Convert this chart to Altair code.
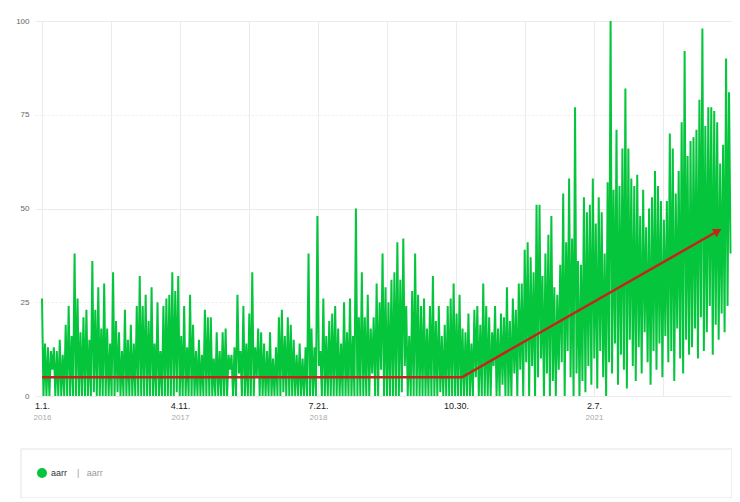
import altair as alt
import pandas as pd

GREEN = "#05c53d"
RED = "#c2261b"
FONT = "'Liberation Sans', Arial, sans-serif"

series_name = "aarr"
legend_note = "|\u00a0\u00a0\u00a0aarr"

vals_2016 = [26,0,14,0,13,0,12,7,13,0, 12,0,15,0,11,0,19,0,24,0, 16,0,38,0,26,0,17,0,21,0,
             23,0,15,0,36,1,23,0,29,0, 18,0,30,0,18,0,14,0,33,0, 20,1,17,0,12,0,23,0,15,0,
             19,0,14,0,24,0,32,0,24,0, 27,0,20]
vals_2017 = [0,29,0,14,0,25,0,12,0,24, 0,26,0,27,0,33,0,28,1,32, 0,16,0,24,0,13,0,27,0,19,
             0,12,0,15,0,11,0,23,0,21, 0,21,0,10,0,17,0,12,0,17, 0,18,0,11,7,11,0,13,0,27,
             6,12,0,24,0,14,0,22,0,33, 0,13,5]
vals_2018 = [18,0,17,0,14,0,12,0,17,0, 10,0,13,0,21,0,23,1,16,0, 21,0,19,0,15,0,11,0,14,0,
             10,0,13,0,38,0,18,0,13,0, 48,8,12,0,26,0,16,0,20,0, 22,0,24,0,18,0,14,0,25,0,
             17,0,26,0,16,0,50,0,21,0, 33,0,21]
vals_2019 = [0,27,0,18,6,21,0,30,0,25, 7,38,0,29,0,25,0,31,0,33, 0,41,0,31,1,42,8,24,0,16,
             0,28,0,38,0,27,0,24,0,26, 0,18,0,24,0,32,0,20,0,24, 1,16,0,19,0,24,0,26,0,30,
             0,22,0,27,0,18,0,17,0,22, 0,14,0]
vals_2020 = [23,5,24,0,19,0,30,0,24,0, 21,0,17,8,24,0,18,0,22,3, 21,0,29,0,20,0,26,6,23,0,
             30,7,30,0,39,9,41,0,37,8, 33,0,51,5,51,10,32,0,38,6, 43,0,48,4,29,0,27,7,35,9,
             54,0,41,12,58,5,42,0,77,6, 36,0,35]
vals_2021 = [4,53,1,49,8,51,3,58,10,46, 2,53,12,49,5,38,0,57,9,100, 6,55,14,71,3,56,11,66,7,82,
             2,66,15,58,8,56,4,59,13,48, 6,55,17,45,9,50,3,53,12,60, 7,56,14,52,5,47,16,52,9,70,
             12,66,4,54,18,60,10,73,6,92, 15,64,11]
vals_2022 = [68,13,69,18,71,10,79,21,98,12, 72,17,77,24,77,11,76,19,73,15, 62,22,67,17,90,24,81,38]

values = vals_2016 + vals_2017 + vals_2018 + vals_2019 + vals_2020 + vals_2021 + vals_2022
dates = pd.date_range("2016-01-01", periods=len(values), freq="5D")
df = pd.DataFrame({"date": dates, "value": values, "series": series_name})

trend_dates = ["2016-01-01", "2019-11-19", "2022-04-01"]
trend_values = [5, 5, 44]
trend = pd.DataFrame({"date": pd.to_datetime(trend_dates), "value": trend_values})
arrow = trend.tail(1)

label_dates = ["2016-01-01", "2017-04-11", "2018-07-21", "2019-10-30", "2021-02-07"]
year_dates = ["2016-01-01", "2017-04-11", "2018-07-21", "2021-02-07"]
grid_dates = [pd.Timestamp("2016-01-01") + pd.Timedelta(days=233 * k) for k in range(11)]


def dt(ts, hours=0):
    ts = pd.Timestamp(ts)
    return alt.DateTime(year=ts.year, month=ts.month, date=ts.day, hours=hours)


xscale = alt.Scale(domain=[dt("2015-12-08", 8), dt("2022-05-19")])
yscale = alt.Scale(domain=[0, 100], nice=False)

yaxis = alt.Axis(
    values=[0, 25, 50, 75, 100], grid=True, gridColor="#ebebeb", gridWidth=1,
    gridDash={"condition": {"test": "datum.value == 25 || datum.value == 75", "value": [2, 2]}, "value": []},
    ticks=False, domain=False, labelColor="#666", labelFontSize=8, labelPadding=6, title=None,
)

line = alt.Chart(df).mark_line(strokeWidth=2.0, interpolate="linear").encode(
    x=alt.X("date:T", scale=xscale,
            axis=alt.Axis(orient="bottom", values=[dt(d) for d in grid_dates], grid=True,
                          gridColor="#ebebeb", labels=False, ticks=False, domain=False, title=None)),
    y=alt.Y("value:Q", scale=yscale, axis=yaxis),
    color=alt.Color("series:N", scale=alt.Scale(domain=[series_name], range=[GREEN]),
                    legend=alt.Legend(orient="none", legendX=2, legendY=447, direction="horizontal",
                                      title=legend_note, titleOrient="right", titleColor="#999",
                                      titleFontWeight="normal", titleFontSize=9, titlePadding=10,
                                      labelFontSize=9, labelColor="#333", symbolType="circle",
                                      symbolSize=100, symbolFillColor=GREEN, symbolStrokeColor=GREEN,
                                      symbolStrokeWidth=0, padding=0)),
)

trend_line = alt.Chart(trend).mark_line(color=RED, strokeWidth=2.5).encode(
    x=alt.X("date:T", scale=xscale,
            axis=alt.Axis(orient="bottom", values=[dt(d) for d in label_dates], format="%-m.%-d.",
                          grid=False, ticks=False, domain=False, labelColor="#222", labelFontSize=9,
                          labelPadding=5, labelFlush=False, labelOverlap=False, title=None)),
    y=alt.Y("value:Q", scale=yscale, axis=yaxis),
)

arrow_pt = alt.Chart(arrow).mark_point(shape="triangle-right", angle=330, size=90, filled=True,
                                       color=RED, opacity=1).encode(
    x=alt.X("date:T", scale=xscale,
            axis=alt.Axis(orient="bottom", values=[dt(d) for d in year_dates], format="%Y",
                          grid=False, ticks=False, domain=False, labelColor="#aaa", labelFontSize=8,
                          labelPadding=17, labelFlush=False, labelOverlap=False, title=None)),
    y=alt.Y("value:Q", scale=yscale, axis=yaxis),
)

box = alt.Chart(pd.DataFrame({"k": [0]})).mark_rect(fill="white", stroke="#e3e3e3", strokeWidth=1,
                                                   clip=False).encode(
    x=alt.value(-14), x2=alt.value(697), y=alt.value(428), y2=alt.value(477)
)

chart = (
    alt.layer(box, line, trend_line, arrow_pt)
    .resolve_axis(x="independent")
    .properties(width=697, height=375,
                padding={"left": 27, "top": 13, "right": 0, "bottom": 102},
                autosize=alt.AutoSizeParams(type="none"))
    .configure(font=FONT)
    .configure_view(strokeWidth=0)
    .configure_axis(labelFont=FONT)
    .configure_legend(labelFont=FONT, titleFont=FONT)
)

chart.save("out.html", embed_options={"renderer": "svg", "actions": False})
